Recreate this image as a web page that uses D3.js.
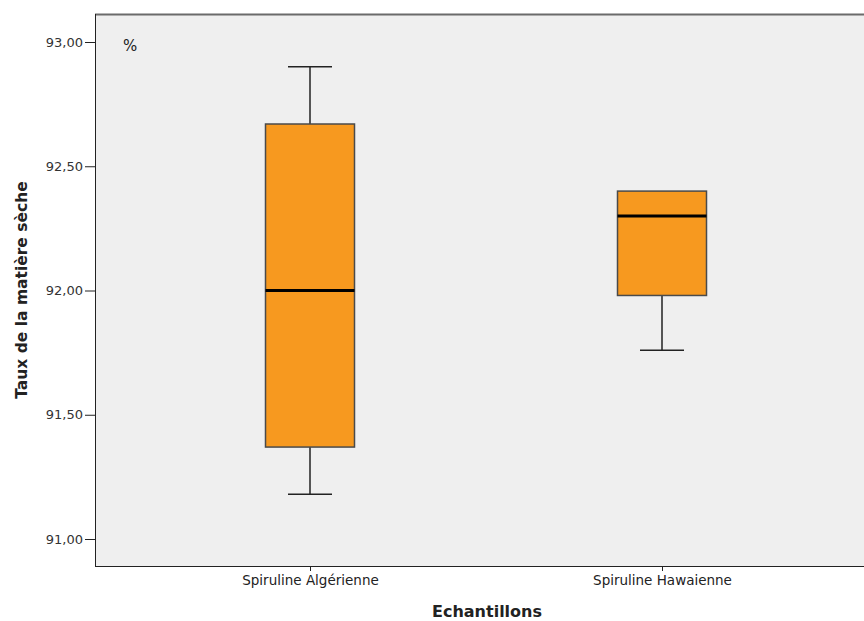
<!DOCTYPE html>
<html><head><meta charset="utf-8">
<script src="https://cdn.jsdelivr.net/npm/d3@7"></script>
<style>body{margin:0;background:#fff}svg{display:block}text{font-family:"DejaVu Sans",Verdana,sans-serif}</style>
</head><body>
<script>
const categories = ["Spiruline Algérienne", "Spiruline Hawaienne"];
const mins    = [91.18, 91.76];
const q1s     = [91.37, 91.98];
const medians = [92.00, 92.30];
const q3s     = [92.67, 92.40];
const maxs    = [92.90, 92.40];
const yTicks  = [91.0, 91.5, 92.0, 92.5, 93.0];

const W = 864, H = 621;
const plot = {left: 95, top: 14, right: 870, bottom: 566};
const svg = d3.select("body").append("svg").attr("width", W).attr("height", H);

const y = d3.scaleLinear().domain([91, 93]).range([539, 42]);
const x = d3.scalePoint().domain(categories).range([310, 662]);
const boxW = 89, capW = 44;

svg.append("rect").attr("x", plot.left).attr("y", plot.top)
  .attr("width", plot.right - plot.left).attr("height", plot.bottom - plot.top)
  .attr("fill", "#efefef");
// borders
svg.append("line").attr("x1", plot.left).attr("x2", plot.right).attr("y1", plot.top + 0.5).attr("y2", plot.top + 0.5)
  .attr("stroke", "#6b6b6b").attr("stroke-width", 2);
svg.append("line").attr("x1", plot.left + 0.5).attr("x2", plot.left + 0.5).attr("y1", plot.top).attr("y2", plot.bottom)
  .attr("stroke", "#222").attr("stroke-width", 1);
svg.append("line").attr("x1", plot.left).attr("x2", plot.right).attr("y1", plot.bottom + 0.5).attr("y2", plot.bottom + 0.5)
  .attr("stroke", "#222").attr("stroke-width", 1);

// y axis
const yAxis = d3.axisLeft(y).tickValues(yTicks).tickSize(10).tickPadding(2)
  .tickFormat(d => d3.format(".2f")(d).replace(".", ","));
const gy = svg.append("g").attr("transform", `translate(${plot.left},0)`).call(yAxis);
gy.select(".domain").remove();
gy.selectAll(".tick line").attr("stroke", "#222");
gy.selectAll(".tick text").attr("font-size", 13).attr("fill", "#333")
  .attr("font-family", "DejaVu Sans, sans-serif");

// x axis
const xAxis = d3.axisBottom(x).tickSize(5).tickPadding(4);
const gx = svg.append("g").attr("transform", `translate(0,${plot.bottom})`).call(xAxis);
gx.select(".domain").remove();
gx.selectAll(".tick line").attr("stroke", "#222");
gx.selectAll(".tick text").attr("font-size", 13.5).attr("fill", "#222")
  .attr("font-family", "DejaVu Sans, sans-serif");

const data = categories.map((c, i) => ({c, min: mins[i], q1: q1s[i], med: medians[i], q3: q3s[i], max: maxs[i]}));
const g = svg.selectAll("g.box").data(data).enter().append("g").attr("class", "box");
// whiskers
g.filter(d => d.max > d.q3).append("line")
  .attr("x1", d => x(d.c)).attr("x2", d => x(d.c)).attr("y1", d => y(d.max)).attr("y2", d => y(d.q3))
  .attr("stroke", "#222").attr("stroke-width", 1.5);
g.filter(d => d.max > d.q3).append("line")
  .attr("x1", d => x(d.c) - capW / 2).attr("x2", d => x(d.c) + capW / 2).attr("y1", d => y(d.max)).attr("y2", d => y(d.max))
  .attr("stroke", "#222").attr("stroke-width", 1.5);
g.append("line")
  .attr("x1", d => x(d.c)).attr("x2", d => x(d.c)).attr("y1", d => y(d.q1)).attr("y2", d => y(d.min))
  .attr("stroke", "#222").attr("stroke-width", 1.5);
g.append("line")
  .attr("x1", d => x(d.c) - capW / 2).attr("x2", d => x(d.c) + capW / 2).attr("y1", d => y(d.min)).attr("y2", d => y(d.min))
  .attr("stroke", "#222").attr("stroke-width", 1.5);
// boxes
g.append("rect")
  .attr("x", d => x(d.c) - boxW / 2).attr("width", boxW)
  .attr("y", d => y(d.q3)).attr("height", d => y(d.q1) - y(d.q3))
  .attr("fill", "#f7991f").attr("stroke", "#4a4a4a").attr("stroke-width", 1.5);
g.append("line")
  .attr("x1", d => x(d.c) - boxW / 2).attr("x2", d => x(d.c) + boxW / 2).attr("y1", d => y(d.med)).attr("y2", d => y(d.med))
  .attr("stroke", "#000").attr("stroke-width", 3);

// % label
svg.append("text").attr("x", 123).attr("y", 51).attr("font-size", 15).attr("fill", "#222").text("%");

// axis titles
svg.append("text").attr("x", 487).attr("y", 617).attr("text-anchor", "middle")
  .attr("font-size", 16).attr("font-weight", "bold").attr("fill", "#222").text("Echantillons");
svg.append("text").attr("transform", "translate(27,290) rotate(-90)").attr("text-anchor", "middle")
  .attr("font-size", 15.5).attr("font-weight", "bold").attr("fill", "#222").text("Taux de la matière sèche");
</script>
</body></html>
